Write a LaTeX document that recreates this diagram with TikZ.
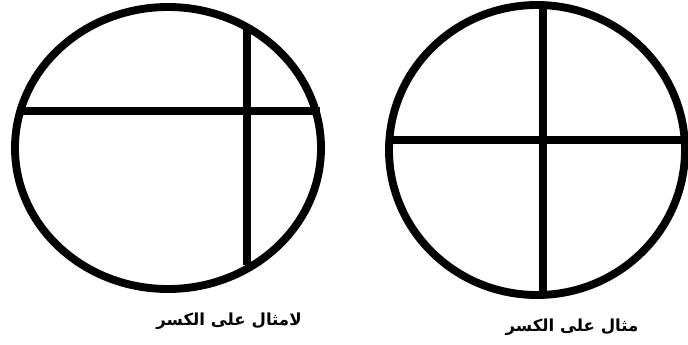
\documentclass[tikz,border=0pt]{standalone}
\usepackage{fontspec}
\newfontfamily\arabicfont[Script=Arabic]{DejaVu Sans}
\TeXXeTstate=1
\usepackage{tikz}
\usetikzlibrary{positioning}

\begin{document}
\begin{tikzpicture}[
  x=0.025cm, y=-0.025cm,
  rim/.style={draw=black, line width=5.6pt},
  cut/.style={draw=black, line width=5.6pt},
  caption/.style={font=\arabicfont\bfseries\fontsize{11.8}{13}\selectfont, inner sep=0pt},
]
\useasboundingbox (0,0) rectangle (688,344);

% --- left shape (not an example) ---
\coordinate (lc) at (168,148);
\draw[rim] (lc) ellipse [x radius=153, y radius=141];
\draw[cut] (17,111) -- (320,111);
\draw[cut] (247,28) -- (247,265);
\node[caption] (lcap) at (229,321) {\beginR لامثال على الكسر\endR};

% --- right shape (example) ---
\coordinate (rc) at (537,150);
\draw[rim] (rc) ellipse [x radius=148, y radius=145];
\draw[cut] (389,140) -- (685,140);
\draw[cut] (543,5) -- (543,295);
\node[caption] (rcap) at (572,327) {\beginR مثال على الكسر\endR};

\end{tikzpicture}
\end{document}
